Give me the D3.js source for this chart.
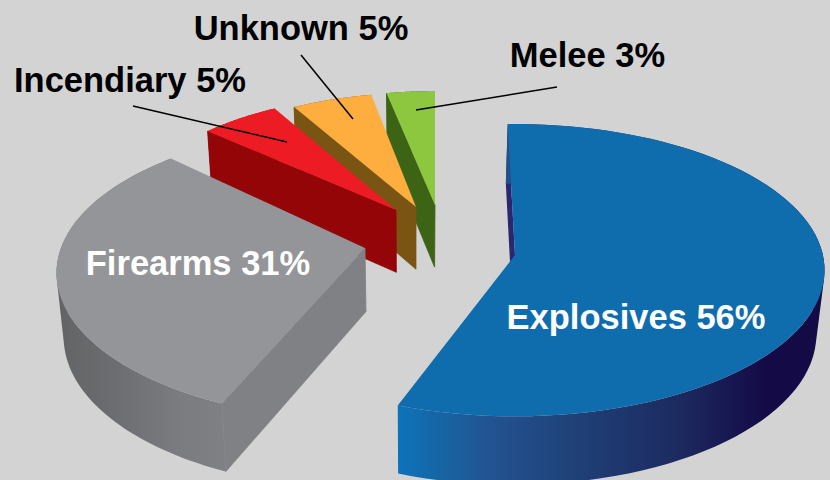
<head>
    <meta name="viewport" content="width=device-width, initial-scale=1">
    <style> body { margin: 0; background: #d3d3d3; overflow: hidden; } </style>
    <script src="https://d3js.org/d3.v7.min.js"></script>
</head>
<body>
    <div id="chart"></div>
    <script>
        // data
        const categories = ["Explosives", "Firearms", "Incendiary", "Unknown", "Melee"];
        const shares = [56, 31, 5, 5, 3];

        // look of each slice, same order as categories
        const topColors = ["#0f6cad", "#939598", "#ed1c24", "#fdae3f", "#8dc63f"];
        const wallColors = ["#2a2670", "#808184", "#930506", "#7a5412", "#3d6314"];
        const apexX = [515, 365, 396, 416, 435];
        const apexY = [255, 248, 210, 207, 205];
        const radii = [0.99, 1, 0.86, 0.85, 0.85];
        // the slices were hand placed in the original, so nudge them (degrees)
        const twist = [0, 3.3, 0, 0.5, 0.8];
        const widen = [0, -0.6, 1, 1.2, 0.7];
        // firearms sits on a stronger perspective than the rest
        const radiusX = [311, 304, 311, 311, 311];
        const radiusY = [146, 143, 146, 146, 146];
        const persp = [0.105, 0.17, 0.105, 0.105, 0.105];

        // labels, same order as categories
        const labelX = [636, 198, 130, 301, 587.5];
        const labelY = [329, 275, 92, 40, 67];
        const labelFill = ["#fff", "#fff", "#000", "#000", "#000"];
        // leader line: from label to slice, null for labels sitting on the slice
        const leaders = [null, null, [[133, 106], [287, 142]], [[301, 55], [353, 119]], [[557, 87], [416, 110]]];

        const width = 830, height = 480;

        const svg = d3.select("#chart").append("svg")
            .attr("width", width)
            .attr("height", height)
            .style("display", "block");

        const defs = svg.append("defs");

        function addGradient(id, x1, x2, stops) {
            const g = defs.append("linearGradient")
                .attr("id", id)
                .attr("gradientUnits", "userSpaceOnUse")
                .attr("x1", x1).attr("x2", x2).attr("y1", 0).attr("y2", 0);
            stops.forEach(function (s) {
                g.append("stop").attr("offset", s[0]).attr("stop-color", s[1]);
            });
        }
        addGradient("wall0", 397, 826, [[0, "#0e73bb"], [0.08, "#1468a8"], [0.22, "#235391"], [0.4, "#1f4279"], [0.66, "#1c2a60"], [0.86, "#140a46"], [1, "#140a46"]]);
        addGradient("wall1", 60, 230, [[0, "#636466"], [0.35, "#6d6e71"], [0.7, "#7b7c7f"], [1, "#808184"]]);

        const pie = d3.pie().sort(null).startAngle(-1.5 * Math.PI / 180).endAngle((360 - 1.5) * Math.PI / 180);
        const slices = pie(shares);

        const line = d3.line();

        // disc coordinates to screen, near edge gets stretched a bit
        function topPoint(i, a, r) {
            const x = r * Math.sin(a), y = -r * Math.cos(a);
            const w = 1 - persp[i] * y;
            return [apexX[i] + radiusX[i] * x / w, apexY[i] + radiusY[i] * y / w];
        }

        // the underside: walls lean in slightly towards the middle of the picture
        function underPoint(p) {
            return [p[0] + (415 - p[0]) * 0.02, p[1] + 56 + p[1] * 0.03];
        }

        function arcPoints(i, d) {
            const deg = Math.PI / 180;
            const a0 = d.startAngle + twist[i] * deg;
            const a1 = d.endAngle + (twist[i] + widen[i]) * deg;
            return d3.range(0, 81).map(function (k) {
                return topPoint(i, a0 + (a1 - a0) * k / 80, radii[i]);
            });
        }

        // curved wall as one path of small quads, all wound the same way so
        // the outline follows the silhouette and there are no seams
        function wallPath(outer) {
            return d3.pairs(outer).map(function (seg) {
                const quad = [seg[0], seg[1], underPoint(seg[1]), underPoint(seg[0])];
                if (d3.polygonArea(quad) < 0) quad.reverse();
                return line(quad) + "Z";
            }).join("");
        }

        // paint far slices first
        d3.range(slices.length).reverse().forEach(function (i) {
            const outer = arcPoints(i, slices[i]);
            const apex = [apexX[i], apexY[i]];
            const first = outer[0];
            const g = svg.append("g").attr("class", "slice");

            // only the cut at the start of each slice ever shows
            g.append("path")
                .attr("d", line([first, apex, underPoint(apex), underPoint(first)]) + "Z")
                .attr("fill", wallColors[i])
                .attr("stroke", i ? wallColors[i] : "none")
                .attr("stroke-width", 0.8);

            const wallFill = i < 2 ? "url(#wall" + i + ")" : wallColors[i];
            g.append("path")
                .attr("d", wallPath(outer))
                .attr("fill", wallFill);

            g.append("path")
                .attr("d", line([apex].concat(outer)) + "Z")
                .attr("fill", topColors[i]);
        });

        svg.selectAll("path.leader")
            .data(leaders.filter(function (d) { return d; }))
            .enter()
            .append("path")
            .attr("class", "leader")
            .attr("d", function (d) { return line(d); })
            .attr("fill", "none")
            .attr("stroke", "#000")
            .attr("stroke-width", 1.5);

        svg.selectAll("text")
            .data(categories)
            .enter()
            .append("text")
            .attr("x", function (d, i) { return labelX[i]; })
            .attr("y", function (d, i) { return labelY[i]; })
            .attr("text-anchor", "middle")
            .attr("font-family", "'Liberation Sans', Arial, sans-serif")
            .attr("font-weight", "bold")
            .attr("font-size", 34.5)
            .attr("fill", function (d, i) { return labelFill[i]; })
            .text(function (d, i) { return d + " " + shares[i] + "%"; });
    </script>
</body>
